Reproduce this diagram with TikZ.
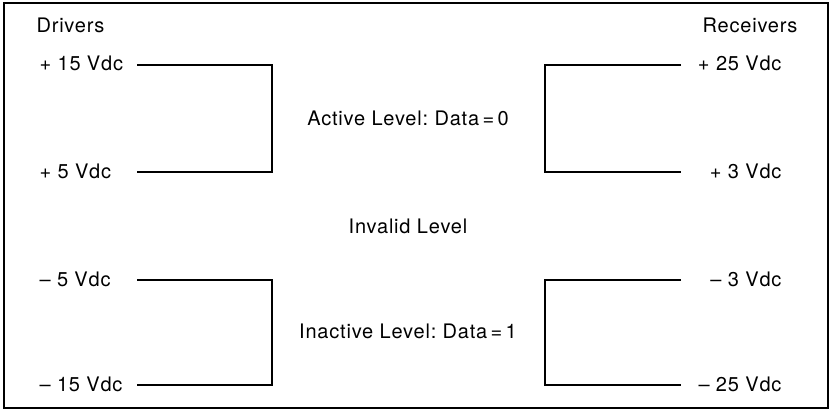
\documentclass[tikz,border=0pt]{standalone}
\usepackage{fontspec}
\setmainfont{TeX Gyre Heros}[LetterSpace=4]
\usetikzlibrary{positioning}
\frenchspacing

\begin{document}
\begin{tikzpicture}[x=1pt,y=-1pt,font=\fontsize{20}{24}\selectfont,line width=1.1pt]
\tikzset{lvl/.style={inner sep=0pt}}

\useasboundingbox (0,0) rectangle (832,411);
\draw[line width=1.2pt] (4,3) rectangle (828,408);

\begin{scope}
\coordinate (o) at (0,0);
% left brackets
\path (o) -- +(137,65) coordinate (la);
\path (o) -- +(272,65) coordinate (lb);
\path (o) -- +(272,172) coordinate (lc);
\path (o) -- +(137,172) coordinate (ld);
\path (o) -- +(137,280) coordinate (le);
\path (o) -- +(272,280) coordinate (lf);
\path (o) -- +(272,385) coordinate (lg);
\path (o) -- +(137,385) coordinate (lh);
% right brackets
\path (o) -- +(681,65) coordinate (ra);
\path (o) -- +(545,65) coordinate (rb);
\path (o) -- +(545,172) coordinate (rc);
\path (o) -- +(681,172) coordinate (rd);
\path (o) -- +(681,280) coordinate (re);
\path (o) -- +(545,280) coordinate (rf);
\path (o) -- +(545,385) coordinate (rg);
\path (o) -- +(681,385) coordinate (rh);

\draw (la) -- (lb) -- (lc) -- (ld);
\draw (le) -- (lf) -- (lg) -- (lh);
\draw (ra) -- (rb) -- (rc) -- (rd);
\draw (re) -- (rf) -- (rg) -- (rh);

\node (drv) [lvl,anchor=west] at (36,25) {Drivers};
\node (rcv) [lvl,anchor=east] at (798,25) {Receivers};

\node (dpa) [lvl,anchor=west] at (39,63) {+ 15 Vdc};
\node (dpb) [lvl,anchor=west] at (39,171) {+ 5 Vdc};
\node (dna) [lvl,anchor=west] at (39,279) {– 5 Vdc};
\node (dnb) [lvl,anchor=west] at (39,384) {– 15 Vdc};

\node (rpa) [lvl,anchor=east] at (782,63) {+ 25 Vdc};
\node (rpb) [lvl,anchor=east] at (782,171) {+ 3 Vdc};
\node (rna) [lvl,anchor=east] at (782,279) {– 3 Vdc};
\node (rnb) [lvl,anchor=east] at (782,384) {– 25 Vdc};

\node (act) [lvl] at (408,118) {Active Level: Data\,=\,0};
\node (inv) [lvl] at (408,226) {Invalid Level};
\node (ina) [lvl] at (408,331) {Inactive Level: Data\,=\,1};
\end{scope}

\end{tikzpicture}
\end{document}
